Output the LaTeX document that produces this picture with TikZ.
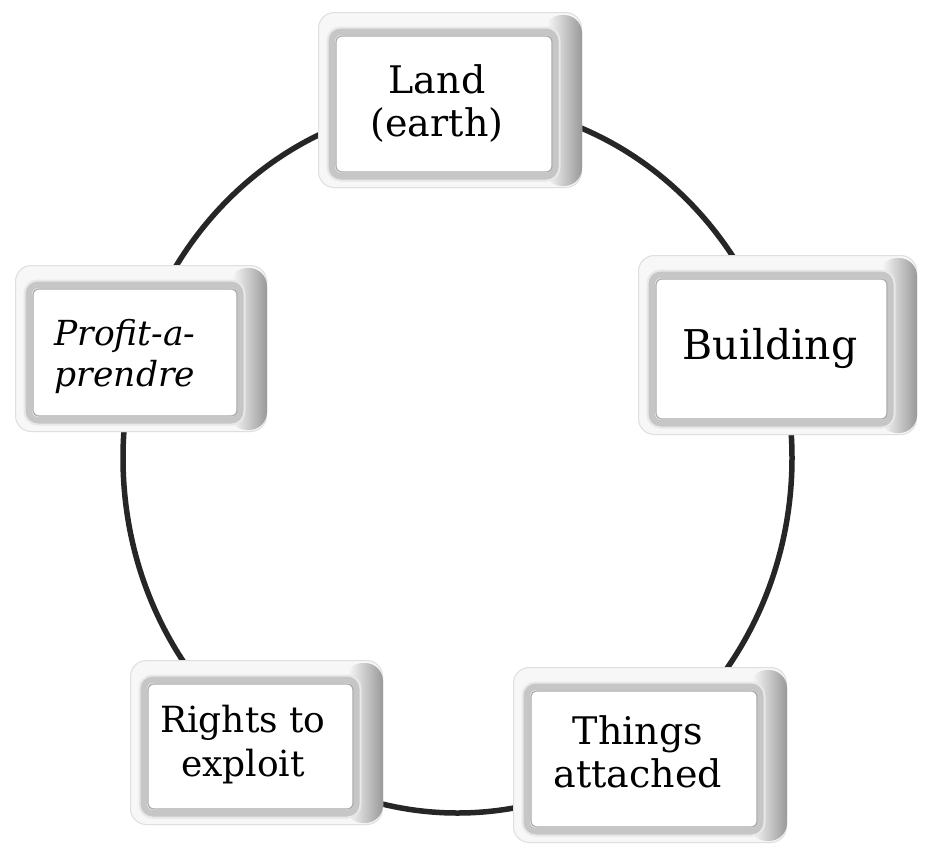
\documentclass[tikz,border=0pt]{standalone}
\usepackage{fontspec}
\setmainfont{DejaVu Serif}
\newcommand{\bevelbox}[4]{%
  \fill[gray!6, rounded corners=16pt] (#1,#2) rectangle (#3,#4);
  \draw[gray!25, line width=1pt, rounded corners=16pt] (#1+0.5,#2+0.5) rectangle (#3-0.5,#4-0.5);
  \shade[rounded corners=18pt, left color=white, right color=gray!80] (#3-38,#2+3) rectangle (#3,#4-2);
  \draw[gray!45, line width=8pt, rounded corners=10pt] (#1+13,#2+19) rectangle (#3-26,#4-11);
  \draw[gray!18, line width=2pt, rounded corners=13pt] (#1+9.5,#2+15.5) rectangle (#3-22.5,#4-7.5);
  \fill[white, rounded corners=6pt] (#1+18,#2+24) rectangle (#3-30,#4-16);
  \draw[gray!65, line width=1.2pt, rounded corners=6pt] (#1+18,#2+24) rectangle (#3-30,#4-16);
}
\tikzset{
  lbl/.style={align=center, inner sep=0pt, font=\fontsize{38}{43}\selectfont},
  ring/.style={line width=5.5pt, black!85}
}
\begin{document}
\begin{tikzpicture}[x=1pt,y=-1pt]
\useasboundingbox (0,0) rectangle (926,857);
\fill[white] (0,0) rectangle (926,857);
\coordinate (c) at (457.5,458);
\draw[ring] (c) ellipse [x radius=334.5, y radius=355];
% Land
\bevelbox{318}{12}{582}{188}
\node[lbl] (land) at (437,103.5) {Land\\(earth)};
% Building
\bevelbox{638}{255}{917}{435}
\node[lbl, font=\fontsize{41}{46}\selectfont] (building) at (770,348) {Building};
% Things attached
\bevelbox{513}{667}{787}{843}
\node[lbl] (things) at (638,752) {Things\\attached};
% Rights to exploit
\bevelbox{130}{660}{383}{825}
\node[lbl, font=\fontsize{36}{44}\selectfont] (rights) at (243,745) {Rights to\\exploit};
% Profit-a-prendre
\bevelbox{15}{265}{267}{432}
\node[lbl, font=\fontsize{34.5}{41}\selectfont\itshape] (profit) at (125,356) {Profit-a-\\prendre};
\end{tikzpicture}
\end{document}
